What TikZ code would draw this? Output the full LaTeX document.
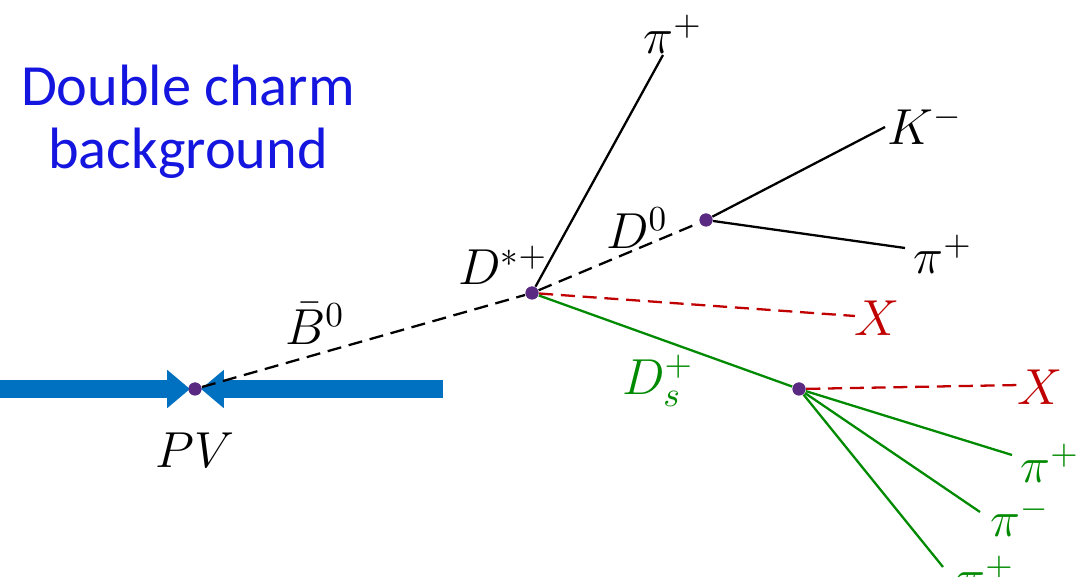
\documentclass[tikz,border=0pt]{standalone}
\usepackage{amsmath,amssymb}
\usepackage{xcolor}
\usepackage{fontspec}
\setsansfont{Carlito}
\usepackage{tikz}
\usetikzlibrary{arrows.meta,positioning,calc}
\definecolor{beamblue}{HTML}{0070C0}
\definecolor{vtxpurple}{HTML}{5A2A82}
\definecolor{xred}{HTML}{C00000}
\definecolor{dsgreen}{HTML}{008A00}
\definecolor{titleblue}{HTML}{1515E0}

\begin{document}
\begin{tikzpicture}[
          every node/.style={font=\fontsize{14}{16}\selectfont},
          vtx/.style={circle,fill=vtxpurple,inner sep=0pt,minimum size=0.13cm},
          beam/.style={beamblue,line width=5.1pt,-{Triangle[length=6.5pt,width=10.5pt]}},
          trk/.style={line width=0.65pt},
          flight/.style={line width=0.65pt,dash pattern=on 4pt off 2.2pt},
          lbl/.style={inner sep=0pt}
      ]
        \useasboundingbox (0,0) rectangle (10.76,5.77);

        % title
        \node[titleblue,align=center,font=\sffamily\fontsize{16.6}{18}\selectfont] (title) at (1.88,4.55)
          {Double charm\\background};

        % vertices
        \node[vtx] (pv) at (1.95,1.88) {};
        \node[vtx] (dst) at (5.32,2.84) {};
        \node[vtx] (dz) at (7.06,3.57) {};
        \node[vtx] (ds) at (7.99,1.88) {};

        % beams
        \coordinate (beamL) at (0,1.88);
        \coordinate (beamR) at (4.43,1.88);
        \draw[beam] (beamL) -- (1.90,1.88);
        \draw[beam] (beamR) -- (2.01,1.88);

        % end points
        \coordinate (e1) at (6.63,5.22);
        \coordinate (e2) at (8.85,4.50);
        \coordinate (e3) at (9.05,3.29);
        \coordinate (e4) at (8.55,2.61);
        \coordinate (e5) at (10.20,1.92);
        \coordinate (e6) at (10.12,1.22);
        \coordinate (e7) at (9.80,0.65);
        \coordinate (e8) at (9.43,0.10);

        % tracks
        \draw[flight] (pv) -- (dst);
        \draw[flight] (dst) -- (dz);
        \draw[trk] (dst) -- (e1);
        \draw[trk] (dz) -- (e2);
        \draw[trk] (dz) -- (e3);
        \draw[flight,xred] (dst) -- (e4);
        \draw[trk,dsgreen] (dst) -- (ds);
        \draw[flight,xred] (ds) -- (e5);
        \draw[trk,dsgreen] (ds) -- (e6);
        \draw[trk,dsgreen] (ds) -- (e7);
        \draw[trk,dsgreen] (ds) -- (e8);

        % redraw vertices on top
        \node[vtx] at (pv) {};
        \node[vtx] at (dst) {};
        \node[vtx] at (dz) {};
        \node[vtx] at (ds) {};

        % labels
        \node[lbl] (lpv) at (1.95,1.27) {$PV$};
        \node[lbl] (lb) at (3.15,2.53) {$\bar{B}^0$};
        \node[lbl] (ldst) at (5.03,3.12) {$D^{*+}$};
        \node[lbl] (ldz) at (6.37,3.49) {$D^0$};
        \node[lbl,dsgreen] (lds) at (6.58,1.96) {$D_s^+$};
        \node[lbl] (lp1) at (6.73,5.43) {$\pi^+$};
        \node[lbl] (lk) at (9.25,4.52) {$K^-$};
        \node[lbl] (lp2) at (9.43,3.23) {$\pi^+$};
        \node[lbl,xred] (lx1) at (8.77,2.59) {$X$};
        \node[lbl,xred] (lx2) at (10.40,1.90) {$X$};
        \node[lbl,dsgreen] (lp3) at (10.50,1.14) {$\pi^+$};
        \node[lbl,dsgreen] (lp4) at (10.20,0.60) {$\pi^-$};
        \node[lbl,dsgreen] (lp5) at (9.85,0.02) {$\pi^+$};
      \end{tikzpicture}
\end{document}
